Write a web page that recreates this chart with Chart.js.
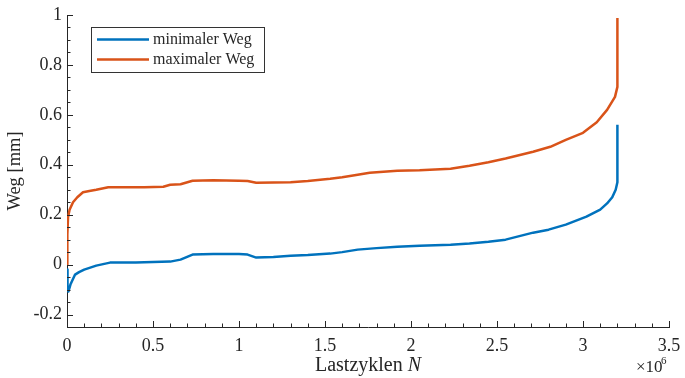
<!DOCTYPE html>
<html>
<head>
<meta charset="utf-8">
<script src="https://cdn.jsdelivr.net/npm/chart.js@4/dist/chart.umd.min.js"></script>
<style>
  html, body { margin: 0; padding: 0; background: #ffffff; }
  #wrap { width: 685px; height: 378px; position: relative; }
</style>
</head>
<body>
<div id="wrap"><canvas id="c" width="685" height="378"></canvas></div>
<script>
// Lastzyklen N in units of 10^6, Weg in mm
const cyclesMin = [0, 0.003, 0.008, 0.02, 0.047, 0.07, 0.10, 0.17, 0.25, 0.4, 0.5, 0.6, 0.66, 0.73, 0.85, 1.0, 1.05, 1.1, 1.2, 1.3, 1.4, 1.53, 1.6, 1.69, 1.8, 1.92, 2.05, 2.23, 2.34, 2.45, 2.55, 2.71, 2.8, 2.9, 3.02, 3.1, 3.14, 3.17, 3.19, 3.2, 3.2];
const wegMin    = [-0.02, -0.09, -0.108, -0.08, -0.04, -0.03, -0.02, -0.004, 0.008, 0.008, 0.01, 0.012, 0.02, 0.04, 0.042, 0.042, 0.04, 0.028, 0.03, 0.035, 0.038, 0.044, 0.05, 0.06, 0.066, 0.072, 0.076, 0.08, 0.085, 0.092, 0.1, 0.128, 0.14, 0.16, 0.192, 0.22, 0.245, 0.27, 0.3, 0.33, 0.56];

const cyclesMax = [0, 0.002, 0.006, 0.015, 0.035, 0.06, 0.093, 0.13, 0.17, 0.24, 0.35, 0.45, 0.56, 0.6, 0.66, 0.73, 0.85, 1.0, 1.05, 1.1, 1.2, 1.3, 1.4, 1.53, 1.6, 1.69, 1.76, 1.92, 2.05, 2.23, 2.34, 2.45, 2.55, 2.71, 2.81, 2.9, 3.0, 3.08, 3.14, 3.186, 3.2, 3.2];
const wegMax    = [0, 0.12, 0.19, 0.22, 0.25, 0.27, 0.29, 0.295, 0.30, 0.31, 0.31, 0.31, 0.312, 0.32, 0.322, 0.336, 0.338, 0.336, 0.335, 0.328, 0.329, 0.33, 0.335, 0.344, 0.35, 0.36, 0.368, 0.376, 0.378, 0.384, 0.396, 0.41, 0.425, 0.452, 0.472, 0.5, 0.528, 0.57, 0.62, 0.672, 0.712, 0.988];

const seriesNames = ['minimaler Weg', 'maximaler Weg'];
const seriesColors = ['#0072BD', '#D95319'];

const xTicks = [0, 0.5, 1, 1.5, 2, 2.5, 3, 3.5];
const xTickLabels = ['0', '0.5', '1', '1.5', '2', '2.5', '3', '3.5'];
const yTicks = [-0.2, 0, 0.2, 0.4, 0.6, 0.8, 1];
const yTickLabels = ['-0.2', '0', '0.2', '0.4', '0.6', '0.8', '1'];

const xRange = [0, 3.5];
const yRange = [-0.25, 1];
const xMinorStep = 0.1;
const yMinorStep = 0.05;

const AXIS = '#262626';
const FONT = "'Liberation Serif', 'Times New Roman', serif";

function points(xs, ys) {
  return xs.map((x, i) => ({ x: x, y: ys[i] }));
}

// inward tick marks, minor ticks, axis title with italic N, exponent and boxed legend
const decorations = {
  id: 'decorations',
  afterDraw(chart) {
    const ctx = chart.ctx;
    const area = chart.chartArea;
    const xs = chart.scales.x;
    const ys = chart.scales.y;
    ctx.save();
    ctx.strokeStyle = AXIS;
    ctx.lineWidth = 1;
    ctx.beginPath();
    const nx = Math.round((xRange[1] - xRange[0]) / xMinorStep);
    for (let i = 0; i <= nx; i++) {
      const v = xRange[0] + i * xMinorStep;
      const major = xTicks.some(t => Math.abs(t - v) < 1e-9);
      const px = Math.round(xs.getPixelForValue(v)) + 0.5;
      ctx.moveTo(px, area.bottom);
      ctx.lineTo(px, area.bottom - (major ? 6 : 3.5));
    }
    const ny = Math.round((yRange[1] - yRange[0]) / yMinorStep);
    for (let i = 0; i <= ny; i++) {
      const v = yRange[0] + i * yMinorStep;
      const major = yTicks.some(t => Math.abs(t - v) < 1e-9);
      const py = Math.round(ys.getPixelForValue(v)) + 0.5;
      ctx.moveTo(area.left, py);
      ctx.lineTo(area.left + (major ? 6 : 3.5), py);
    }
    ctx.stroke();

    // x axis title
    ctx.fillStyle = AXIS;
    ctx.textBaseline = 'alphabetic';
    const t1 = 'Lastzyklen ';
    const t2 = 'N';
    ctx.font = '20px ' + FONT;
    const w1 = ctx.measureText(t1).width;
    ctx.font = 'italic 20px ' + FONT;
    const w2 = ctx.measureText(t2).width;
    const cx = (area.left + area.right) / 2;
    const ty = 371;
    ctx.font = '20px ' + FONT;
    ctx.textAlign = 'left';
    ctx.fillText(t1, cx - (w1 + w2) / 2, ty);
    ctx.font = 'italic 20px ' + FONT;
    ctx.fillText(t2, cx - (w1 + w2) / 2 + w1, ty);

    // exponent of the x axis
    ctx.font = '17px ' + FONT;
    ctx.textAlign = 'left';
    ctx.fillText('\u00d710', 636, 372);
    ctx.font = '11px ' + FONT;
    ctx.fillText('6', 661, 364);

    // legend
    const lx = 91, ly = 27, lw = 173, lh = 45;
    ctx.fillStyle = '#ffffff';
    ctx.fillRect(lx, ly, lw, lh);
    ctx.strokeStyle = '#333333';
    ctx.lineWidth = 1;
    ctx.strokeRect(lx + 0.5, ly + 0.5, lw, lh);
    ctx.font = '16px ' + FONT;
    ctx.textBaseline = 'middle';
    chart.data.datasets.forEach((ds, i) => {
      const yy = 39.5 + i * 20;
      ctx.strokeStyle = ds.borderColor;
      ctx.lineWidth = 2.5;
      ctx.beginPath();
      ctx.moveTo(97, yy);
      ctx.lineTo(149, yy);
      ctx.stroke();
      ctx.fillStyle = AXIS;
      ctx.fillText(ds.label, 153, yy);
    });
    ctx.restore();
  }
};

new Chart(document.getElementById('c'), {
  type: 'line',
  data: {
    datasets: [
      { label: seriesNames[0], data: points(cyclesMin, wegMin), borderColor: seriesColors[0] },
      { label: seriesNames[1], data: points(cyclesMax, wegMax), borderColor: seriesColors[1] }
    ]
  },
  options: {
    responsive: false,
    animation: false,
    devicePixelRatio: 1,
    layout: { padding: { top: 15, right: 16, left: 0, bottom: 0 } },
    elements: {
      line: { borderWidth: 2.5, tension: 0, fill: false, borderCapStyle: 'butt', borderJoinStyle: 'round' },
      point: { radius: 0, hoverRadius: 0 }
    },
    plugins: {
      legend: { display: false },
      tooltip: { enabled: false }
    },
    scales: {
      x: {
        type: 'linear',
        min: xRange[0],
        max: xRange[1],
        afterFit(s) { s.height = 51; s.paddingLeft = 0; s.paddingRight = 0; },
        afterBuildTicks(s) { s.ticks = xTicks.map(v => ({ value: v })); },
        grid: { display: true, drawOnChartArea: false, drawTicks: false },
        border: { display: true, color: AXIS, width: 1 },
        ticks: {
          padding: 8,
          color: AXIS,
          font: { family: FONT, size: 18 },
          maxRotation: 0,
          callback: (v, i) => xTickLabels[i]
        },
        title: { display: false }
      },
      y: {
        type: 'linear',
        min: yRange[0],
        max: yRange[1],
        afterFit(s) { s.width = 67; s.paddingTop = 0; s.paddingBottom = 0; },
        afterBuildTicks(s) { s.ticks = yTicks.map(v => ({ value: v })); },
        grid: { display: true, drawOnChartArea: false, drawTicks: false },
        border: { display: true, color: AXIS, width: 1 },
        ticks: {
          padding: 5,
          color: AXIS,
          font: { family: FONT, size: 18 },
          callback: (v, i) => yTickLabels[i]
        },
        title: {
          display: true,
          text: 'Weg [mm]',
          color: AXIS,
          font: { family: FONT, size: 18.5 },
          padding: { top: 4, bottom: 0 }
        }
      }
    }
  },
  plugins: [decorations]
});
</script>
</body>
</html>
